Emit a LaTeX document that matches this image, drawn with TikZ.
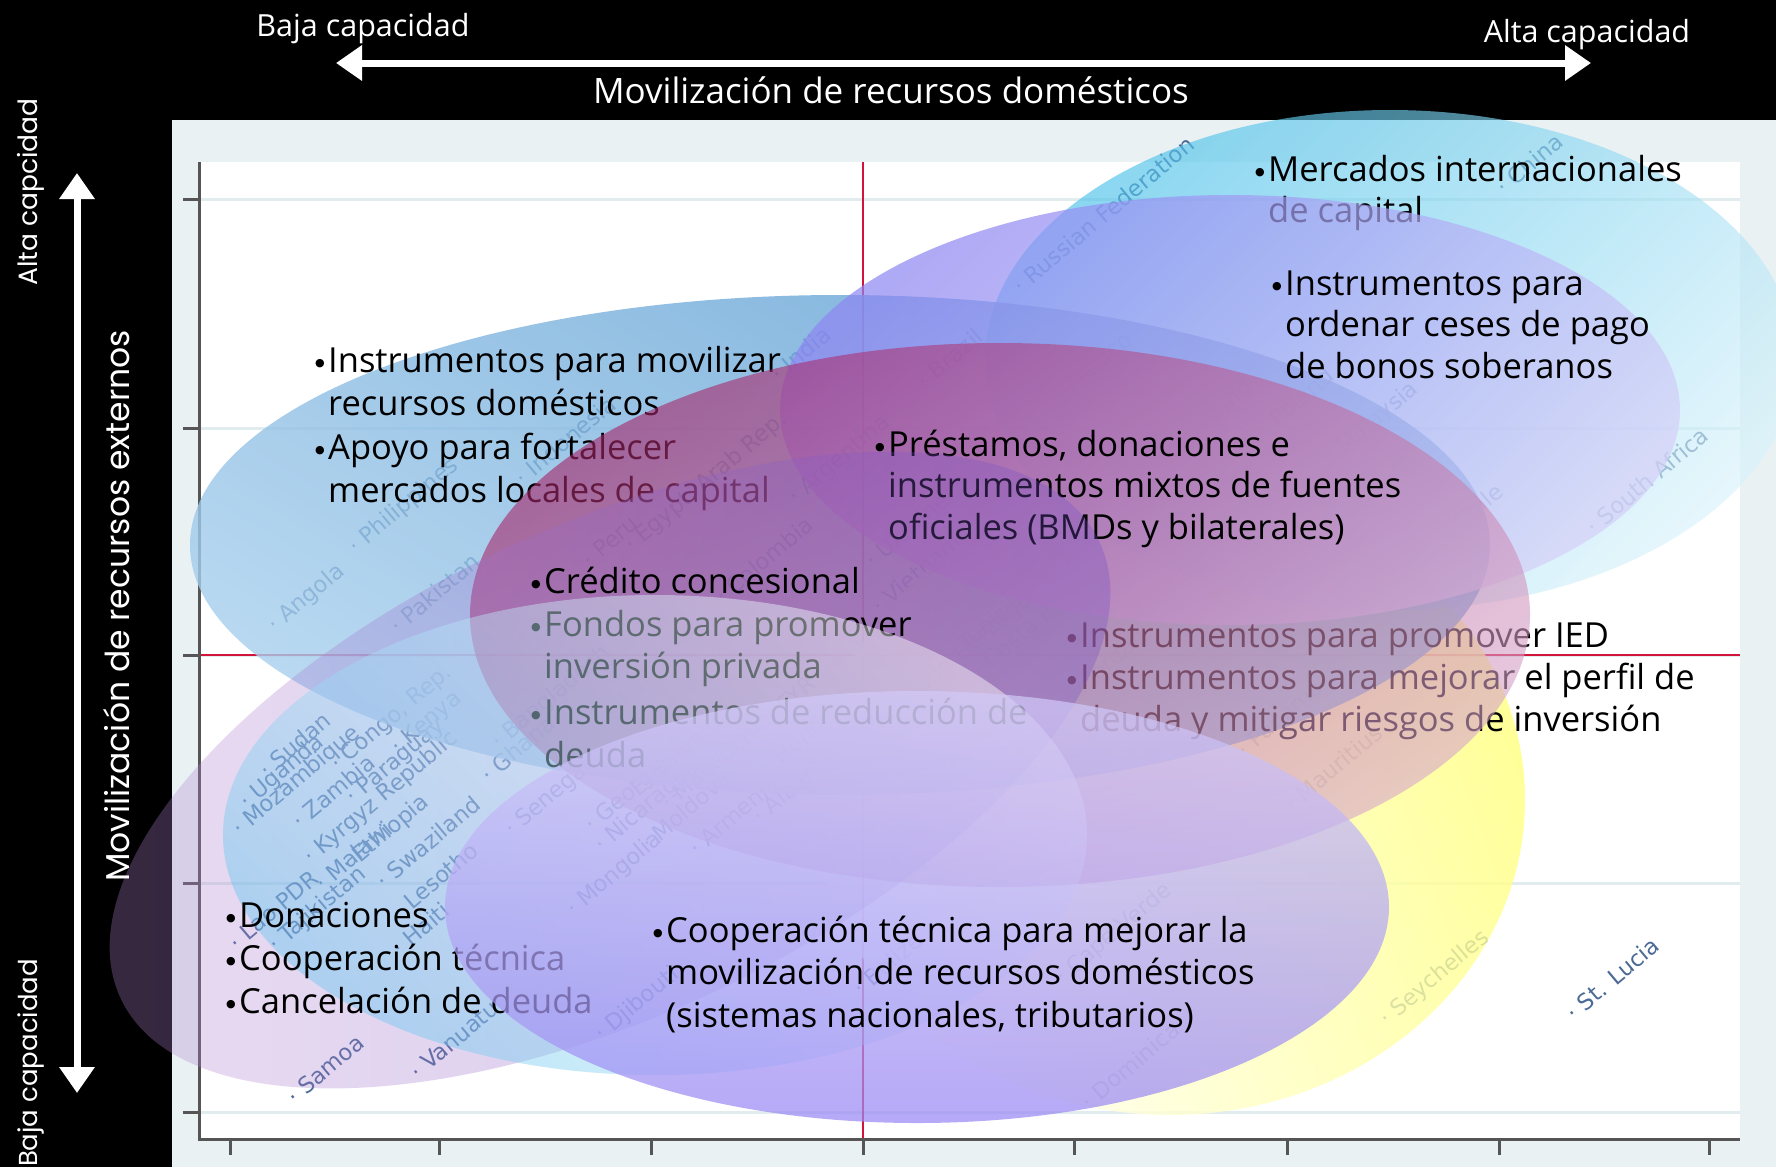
\documentclass[tikz,border=0pt]{standalone}
\usepackage{fontspec}
\setmainfont{Open Sans}
\newfontfamily\sidefont{Poppins}
\newfontfamily\ctryfont{DejaVu Sans}
\usetikzlibrary{arrows.meta}
\definecolor{plotbg}{HTML}{E9F1F3}
\definecolor{gridc}{HTML}{E1ECEE}
\definecolor{redc}{HTML}{D2143C}
\definecolor{axisc}{HTML}{555555}
\definecolor{ctryc}{HTML}{4B6A96}
\definecolor{cyanA}{HTML}{4EC2EA}
\definecolor{cyanB}{HTML}{D8F2FB}
\definecolor{lavA}{HTML}{8E86F2}
\definecolor{lavB}{HTML}{D4D0F8}
\definecolor{blueA}{HTML}{5C9DD2}
\definecolor{blueB}{HTML}{A8D0EE}
\definecolor{magA}{HTML}{A62468}
\definecolor{magB}{HTML}{D8A6CC}
\definecolor{purA}{HTML}{B88AD2}
\definecolor{purB}{HTML}{7048C4}
\definecolor{skyA}{HTML}{6CC8F0}
\definecolor{skyB}{HTML}{FFFFFF}
\definecolor{vioA}{HTML}{D2CAF8}
\definecolor{vioB}{HTML}{9A88F4}
\definecolor{yelA}{HTML}{FFFF80}
\definecolor{yelB}{HTML}{FFFFFF}
\newcommand{\blt}{\makebox[13pt][l]{\raisebox{6pt}{\ctryfont\fontsize{11}{11}\selectfont ●}}}
\begin{document}
\begin{tikzpicture}[x=1pt,y=-1pt,
  gridl/.style={draw=gridc, line width=3pt},
  redl/.style={draw=redc, line width=2.5pt},
  axl/.style={draw=axisc, line width=3pt},
  ctry/.style={font=\ctryfont\fontsize{22.5}{22.5}\selectfont, text=ctryc, rotate=40, anchor=west, inner sep=0pt},
  ln/.style={font=\fontsize{34.5}{40}\selectfont, anchor=base west, inner sep=0pt, text=black},
  toptxt/.style={font=\fontsize{30.5}{34}\selectfont, text=white, anchor=base, inner sep=0pt},
  sidetxt/.style={font=\sidefont\fontsize{26.5}{30}\selectfont, text=white, rotate=90, inner sep=0pt},
  bigarr/.style={draw=white, line width=7pt, {Triangle[length=26pt,width=34pt]}-{Triangle[length=26pt,width=34pt]}}
]
\useasboundingbox (0,0) rectangle (1776,1167);
% backgrounds
\fill[black] (0,0) rectangle (1776,1167);
\fill[plotbg] (172,120) rectangle (1776,1167);
\fill[white] (199,162) rectangle (1740,1139);
\foreach \yy in {199,428,655,883,1112} \draw[gridl] (199,\yy) -- (1740,\yy);
\draw[redl] (199,655) -- (1740,655);
\draw[redl] (863,162) -- (863,1139);
\draw[axl] (199,162) -- (199,1139) -- (1740,1139);
\foreach \yy in {199,428,655,883,1112} \draw[axl] (183,\yy) -- (199,\yy);
\foreach \xx in {230,439,651,863,1074,1287,1499,1709} \draw[axl] (\xx,1139) -- (\xx,1155);
% country labels
\foreach \px/\py/\t [count=\i] in {
 1016/288/Russian Federation, 1499/189/China, 774/376/India, 920/383/Brazil,
 1057/396/Mexico, 1164/455/Thailand, 1261/430/Poland, 1329/459/Malaysia,
 1445/534/Chile, 1589/529/South Africa, 518/480/Indonesia, 352/550/Philippines,
 271/628/Angola, 393/628/Pakistan, 585/562/Peru, 628/548/{Egypt, Arab Rep.},
 718/598/Colombia, 792/500/Argentina, 868/562/Ukraine, 875/608/Vietnam,
 950/655/Tunisia, 990/605/Morocco, 845/752/Bosnia and Herzegovina, 975/672/Costa Rica,
 1115/625/Lebanon, 1122/620/Belarus, 1078/690/Jordan, 1240/752/Panama,
 1288/806/Mauritius, 262/772/Sudan, 243/805/Uganda, 236/832/Mozambique,
 334/767/{Congo, Rep.}, 295/823/Zambia, 350/800/Paraguay, 395/750/Kenya,
 307/860/Kyrgyz Republic, 345/868/Ethiopia, 318/885/Malawi, 379/883/Swaziland,
 396/913/Lesotho, 232/945/Lao PDR, 272/948/Tajikistan, 395/950/Haiti,
 484/777/Ghana, 508/832/Senegal, 588/828/Georgia, 598/848/Nicaragua,
 570/912/Mongolia, 644/845/Moldova, 692/850/Armenia, 755/818/Albania,
 765/768/Honduras, 622/800/El Salvador, 665/805/{Macedonia, FYR}, 598/1037/Djibouti,
 856/990/Belize, 413/1074/Vanuatu, 290/1099/Samoa, 1059/980/Cape Verde,
 1084/1104/Dominica, 1383/1022/Seychelles, 1569/1015/St. Lucia, 495/745/Bangladesh}
 \node[ctry] (c\i) at (\px,\py) {· \t};
% ellipses and texts in layer order
\shade[fill opacity=.8, top color=yelA, middle color=yelA!45, bottom color=yelB, shading angle=-70] (1170,800) ellipse [x radius=355pt, y radius=315pt];
\shade[fill opacity=.65, top color=cyanA, bottom color=cyanB, shading angle=45] (1390,360) ellipse [x radius=405pt, y radius=250pt];
\node[ln] (b1) at (1255,181.5) {\blt Mercados internacionales};
\node[ln] (b2) at (1268,222) {de capital};
\shade[fill opacity=.8, top color=blueA, bottom color=blueB, shading angle=-30] (840,545) ellipse [x radius=650pt, y radius=250pt];
\shade[fill opacity=.7, top color=lavA, bottom color=lavB, shading angle=45] (1230,410) ellipse [x radius=450pt, y radius=215pt];
\node[ln] (b3) at (1272,295) {\blt Instrumentos para};
\node[ln] (b4) at (1285,336) {ordenar ceses de pago};
\node[ln] (b5) at (1285,378) {de bonos soberanos};
\node[ln] (a1) at (315,372) {\blt Instrumentos para movilizar};
\node[ln] (a2) at (328,415.5) {recursos domésticos};
\node[ln] (a3) at (315,459) {\blt Apoyo para fortalecer};
\node[ln] (a4) at (328,502.5) {mercados locales de capital};
\node[ln] (e1) at (1067,647) {\blt Instrumentos para promover IED};
\node[ln] (e2) at (1067,689) {\blt Instrumentos para mejorar el perfil de};
\node[ln] (e3) at (1080,731) {deuda y mitigar riesgos de inversión};
\shade[fill opacity=.6, top color=magA, bottom color=magB, shading angle=35] (1000,615) ellipse [x radius=530pt, y radius=272pt];
\node[ln] (p1) at (875,456) {\blt Préstamos, donaciones e};
\node[ln] (p2) at (888,497.5) {instrumentos mixtos de fuentes};
\node[ln] (p3) at (888,539) {oficiales (BMDs y bilaterales)};
\shade[fill opacity=.3, left color=purA, right color=purB, rotate around={25:(610,770)}] (610,770) ellipse [x radius=540pt, y radius=245pt];
\node[ln] (d1) at (531,593) {\blt Crédito concesional};
\node[ln] (d2) at (531,636) {\blt Fondos para promover};
\node[ln] (d3) at (544,678) {inversión privada};
\node[ln] (d4) at (531,724) {\blt Instrumentos de reducción de};
\node[ln] (d5) at (544,767) {deuda};
\shade[fill opacity=.45, top color=skyB, bottom color=skyA, shading angle=-45] (655,835) ellipse [x radius=432pt, y radius=240pt];
\node[ln] (f1) at (226,927) {\blt Donaciones};
\node[ln] (f2) at (226,970) {\blt Cooperación técnica};
\node[ln] (f3) at (226,1013) {\blt Cancelación de deuda};
\shade[fill opacity=.72, top color=vioA, bottom color=vioB] (917,907) ellipse [x radius=472pt, y radius=216pt];
\node[ln] (g1) at (653,942) {\blt Cooperación técnica para mejorar la};
\node[ln] (g2) at (666,984) {movilización de recursos domésticos};
\node[ln] (g3) at (666,1027) {(sistemas nacionales, tributarios)};
% top band
\node[toptxt] (tB) at (363,36) {Baja capacidad};
\node[toptxt] (tA) at (1587,42) {Alta capacidad};
\node[toptxt, font=\fontsize{35}{40}\selectfont] (tM) at (891,103) {Movilización de recursos domésticos};
\coordinate (hL) at (336,63);
\coordinate (hR) at (1591,63);
\draw[bigarr] (hL) -- (hR);
% left band
\node[sidetxt] (sA) at (31,192) {Alta capcidad};
\node[sidetxt, font=\sidefont\fontsize{26}{30}\selectfont] (sB) at (31,1063) {Baja capacidad};
\node[sidetxt, font=\sidefont\fontsize{33}{38}\selectfont] (sM) at (117,606) {Movilización de recursos externos};
\coordinate (vT) at (77,173);
\coordinate (vB) at (77,1093);
\draw[bigarr] (vT) -- (vB);
\end{tikzpicture}
\end{document}
